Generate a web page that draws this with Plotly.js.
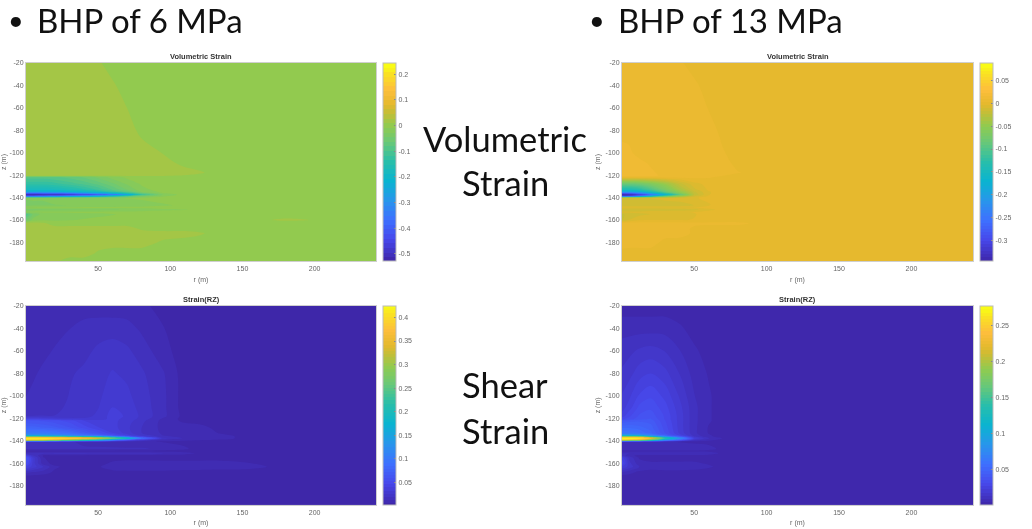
<!DOCTYPE html>
<html><head><meta charset="utf-8">
<script src="https://cdn.plot.ly/plotly-3.0.1.min.js"></script>
<style>
html,body{margin:0;padding:0;background:#fff}
#plot{width:1032px;height:529px}
#plot .cartesianlayer,#plot .colorbar{filter:blur(.7px)}
</style></head><body><div id="plot"></div>
<script>
const rValues=[0,5,12,20,30,40,50,60,70,80,95,110,120,135,155,180,243];
const zValues=[-20,-40,-60,-80,-100,-110,-118,-120.5,-122,-128,-133,-135,-136,-137.5,-139,-140.5,-147,-149,-151,-153,-155,-160,-163,-168,-172,-180,-190,-197];

const volStrain6=[
[.018,.018,.018,.018,.018,.018,.012,0,0,0,0,0,0,0,0,0,0],
[.018,.018,.018,.018,.018,.018,.018,.012,0,0,0,0,0,0,0,0,0],
[.018,.018,.018,.018,.018,.018,.018,.018,.009,0,0,0,0,0,0,0,0],
[.018,.018,.018,.018,.018,.018,.018,.018,.018,.004,0,0,0,0,0,0,0],
[.018,.018,.018,.018,.018,.018,.018,.018,.018,.018,.008,0,0,0,0,0,0],
[.018,.018,.018,.018,.018,.018,.018,.018,.018,.018,.018,.004,0,0,0,0,0],
[.018,.018,.018,.018,.018,.018,.018,.018,.018,.018,.018,.018,.012,0,0,0,0],
[.012,.012,.012,.012,.012,.012,.012,.012,.012,.012,.012,.008,.004,0,0,0,0],
[-.09,-.09,-.09,-.085,-.075,-.06,-.04,-.018,-.005,0,0,0,0,0,0,0,0],
[-.13,-.13,-.13,-.125,-.11,-.095,-.075,-.05,-.025,-.007,0,0,0,0,0,0,0],
[-.18,-.18,-.18,-.175,-.16,-.14,-.115,-.08,-.045,-.015,0,0,0,0,0,0,0],
[-.25,-.25,-.25,-.24,-.22,-.2,-.17,-.12,-.08,-.025,-.003,0,0,0,0,0,0],
[-.38,-.38,-.37,-.36,-.34,-.3,-.26,-.2,-.14,-.06,-.006,0,0,0,0,0,0],
[-.525,-.525,-.52,-.51,-.49,-.47,-.43,-.37,-.27,-.12,-.025,0,0,0,0,0,0],
[-.4,-.39,-.37,-.34,-.3,-.26,-.22,-.16,-.09,-.04,-.01,0,0,0,0,0,0],
[-.025,-.025,-.025,-.02,-.018,-.016,-.012,-.01,-.008,-.005,0,0,0,0,0,0,0],
[-.035,-.03,-.03,-.028,-.027,-.026,-.025,-.024,-.022,-.02,-.012,-.005,0,0,0,0,0],
[-.008,-.008,-.006,-.006,-.005,-.005,-.004,-.004,-.003,-.003,0,0,0,0,0,0,0],
[-.04,-.036,-.034,-.034,-.033,-.032,-.031,-.03,-.025,-.02,-.014,-.01,-.006,0,0,0,0],
[-.012,-.008,-.006,-.006,-.006,-.005,-.005,-.004,-.004,-.003,0,0,0,0,0,0,0],
[-.1,-.04,-.02,-.018,-.016,-.014,-.012,-.01,-.006,-.004,0,0,0,0,0,0,0],
[-.05,-.02,-.012,-.012,-.01,-.008,-.006,-.004,0,0,0,0,0,0,.004,.012,0],
[.018,.018,.012,0,0,0,0,0,0,0,0,0,0,0,0,0,0],
[.018,.018,.018,.018,.018,.018,.018,.018,.018,.006,0,0,0,0,0,0,0],
[.018,.018,.018,.018,.018,.018,.018,.018,.018,.018,.018,.018,.012,0,0,0,0],
[.018,.018,.018,.018,.018,.018,.018,.018,.018,.018,.006,0,0,0,0,0,0],
[.018,.018,.018,.018,.018,.018,.006,0,0,0,0,0,0,0,0,0,0],
[.018,.018,.018,.012,0,0,0,0,0,0,0,0,0,0,0,0,0]];

const volStrain13=[
[.0068,.0068,.0068,.0068,.0068,.0045,0,0,0,0,0,0,0,0,0,0,0],
[.0068,.0068,.0068,.0068,.0068,.0068,.005,0,0,0,0,0,0,0,0,0,0],
[.0068,.0068,.0068,.0068,.0068,.0068,.0068,.003,0,0,0,0,0,0,0,0,0],
[.0068,.0068,.0068,.0068,.0068,.0068,.0068,.0068,.001,0,0,0,0,0,0,0,0],
[.0136,.012,.0068,.0068,.0068,.0068,.0068,.0068,.004,0,0,0,0,0,0,0,0],
[.0136,.0136,.0136,.009,.0068,.0068,.0068,.0068,.0068,.001,0,0,0,0,0,0,0],
[.0136,.0136,.0136,.012,.0068,.0068,.0068,.0068,.0068,.004,0,0,0,0,0,0,0],
[.0136,.0136,.0136,.0136,.0068,.0068,.0068,.0068,.0036,0,0,0,0,0,0,0,0],
[.004,.004,.004,.004,.005,.005,.005,.004,.002,0,0,0,0,0,0,0,0],
[-.085,-.085,-.08,-.065,-.045,-.02,-.006,-.001,0,0,0,0,0,0,0,0,0],
[-.14,-.14,-.13,-.105,-.07,-.035,-.012,-.002,0,0,0,0,0,0,0,0,0],
[-.2,-.2,-.18,-.14,-.09,-.05,-.018,-.004,0,0,0,0,0,0,0,0,0],
[-.28,-.27,-.24,-.19,-.12,-.06,-.02,-.004,0,0,0,0,0,0,0,0,0],
[-.345,-.34,-.32,-.26,-.17,-.09,-.022,-.004,0,0,0,0,0,0,0,0,0],
[-.3,-.29,-.24,-.17,-.09,-.045,-.012,-.002,0,0,0,0,0,0,0,0,0],
[-.012,-.012,-.012,-.01,-.008,-.006,-.004,-.002,0,0,0,0,0,0,0,0,0],
[-.014,-.014,-.014,-.014,-.014,-.014,-.01,-.004,0,0,0,0,0,0,0,0,0],
[-.005,-.005,-.005,-.005,-.004,-.004,-.003,0,0,0,0,0,0,0,0,0,0],
[-.016,-.016,-.016,-.016,-.016,-.016,-.012,-.006,0,0,0,0,0,0,0,0,0],
[-.008,-.008,-.008,-.006,-.005,-.004,-.003,0,0,0,0,0,0,0,0,0,0],
[-.018,-.015,-.012,-.01,-.008,-.006,-.004,0,0,0,0,0,0,0,0,0,0],
[-.018,-.01,-.005,-.004,-.004,-.004,-.003,0,0,0,0,0,0,0,0,0,0],
[.0068,.0068,.0068,.0068,.0068,.0068,.005,.005,.005,.005,.002,0,0,0,0,0,0],
[.0068,.0068,.0068,.0068,.0068,.0068,.002,0,0,0,0,0,0,0,0,0,0],
[.0068,.0068,.0068,.0068,.0068,.0068,.002,0,0,0,0,0,0,0,0,0,0],
[.0068,.0068,.0068,.0068,.001,0,0,0,0,0,0,0,0,0,0,0,0],
[.001,0,0,0,0,0,0,0,0,0,0,0,0,0,0,0,0],
[0,0,0,0,0,0,0,0,0,0,0,0,0,0,0,0,0]];

const shearStrain6=[
[.009,.009,.009,.009,.009,.009,.009,.009,.009,.009,.003,.003,.003,.003,.003,.003,.003],
[.009,.009,.009,.01,.013,.016,.017,.017,.016,.012,.007,.003,.003,.003,.003,.003,.003],
[.009,.01,.011,.014,.016,.018,.021,.023,.021,.017,.009,.003,.003,.003,.003,.003,.003],
[.01,.012,.015,.016,.019,.021,.024,.027,.025,.021,.014,.003,.003,.003,.003,.003,.003],
[.013,.015,.016,.017,.02,.022,.025,.03,.028,.023,.015,.003,.003,.003,.003,.003,.003],
[.015,.016,.017,.018,.021,.023,.026,.033,.03,.024,.015,.003,.003,.003,.003,.003,.003],
[.02,.02,.02,.02,.022,.024,.028,.036,.032,.025,.015,.004,.003,.003,.003,.003,.003],
[.04,.04,.038,.035,.03,.028,.03,.035,.031,.024,.012,.004,.003,.003,.003,.003,.003],
[.06,.06,.058,.055,.05,.04,.035,.035,.03,.022,.011,.005,.004,.003,.003,.003,.003],
[.075,.075,.072,.068,.06,.05,.04,.036,.028,.02,.011,.01,.009,.004,.003,.003,.003],
[.1,.1,.1,.095,.085,.07,.055,.04,.03,.02,.012,.011,.01,.006,.003,.003,.003],
[.13,.13,.13,.12,.11,.09,.075,.055,.038,.025,.013,.012,.011,.008,.004,.003,.003],
[.22,.22,.21,.2,.18,.16,.14,.1,.06,.035,.014,.012,.011,.009,.004,.003,.003],
[.42,.42,.42,.41,.4,.38,.34,.27,.19,.09,.022,.012,.011,.009,.004,.003,.003],
[.4,.39,.38,.35,.3,.25,.2,.13,.07,.035,.012,.009,.008,.006,.003,.003,.003],
[.02,.02,.018,.016,.014,.012,.011,.01,.009,.008,.006,.004,.003,.003,.003,.003,.003],
[.014,.014,.014,.014,.014,.014,.014,.014,.014,.014,.012,.008,.003,.003,.003,.003,.003],
[.005,.005,.005,.005,.005,.005,.005,.005,.004,.004,.003,.003,.003,.003,.003,.003,.003],
[.016,.016,.016,.016,.016,.016,.016,.016,.016,.016,.014,.01,.005,.003,.003,.003,.003],
[.04,.02,.006,.005,.005,.005,.004,.004,.004,.004,.003,.003,.003,.003,.003,.003,.003],
[.06,.03,.007,.004,.004,.004,.004,.004,.004,.004,.003,.003,.003,.003,.003,.003,.003],
[.055,.03,.01,.004,.004,.004,.004,.008,.01,.01,.01,.01,.01,.01,.007,.003,.003],
[.04,.03,.02,.008,.004,.004,.006,.009,.01,.01,.01,.01,.01,.01,.009,.004,.003],
[.015,.012,.01,.005,.005,.005,.005,.005,.005,.005,.005,.004,.004,.003,.003,.003,.003],
[.003,.003,.003,.003,.003,.003,.003,.003,.003,.003,.003,.003,.003,.003,.003,.003,.003],
[.003,.003,.003,.003,.003,.003,.003,.003,.003,.003,.003,.003,.003,.003,.003,.003,.003],
[.003,.003,.003,.003,.003,.003,.003,.003,.003,.003,.003,.003,.003,.003,.003,.003,.003],
[.003,.003,.003,.003,.003,.003,.003,.003,.003,.003,.003,.003,.003,.003,.003,.003,.003]];

const shearStrain13=[
[.002,.002,.002,.002,.002,.002,.002,.002,.002,.002,.002,.002,.002,.002,.002,.002,.002],
[.007,.007,.007,.007,.007,.005,.003,.002,.002,.002,.002,.002,.002,.002,.002,.002,.002],
[.011,.012,.014,.015,.013,.009,.005,.003,.002,.002,.002,.002,.002,.002,.002,.002,.002],
[.014,.016,.02,.022,.019,.013,.007,.004,.002,.002,.002,.002,.002,.002,.002,.002,.002],
[.018,.021,.027,.03,.025,.017,.009,.005,.002,.002,.002,.002,.002,.002,.002,.002,.002],
[.02,.024,.032,.034,.028,.019,.01,.005,.002,.002,.002,.002,.002,.002,.002,.002,.002],
[.024,.03,.036,.038,.03,.02,.01,.005,.002,.002,.002,.002,.002,.002,.002,.002,.002],
[.03,.033,.038,.04,.03,.02,.01,.005,.002,.002,.002,.002,.002,.002,.002,.002,.002],
[.04,.042,.043,.042,.031,.02,.01,.005,.002,.002,.002,.002,.002,.002,.002,.002,.002],
[.052,.052,.05,.046,.033,.02,.01,.004,.002,.002,.002,.002,.002,.002,.002,.002,.002],
[.06,.06,.058,.05,.035,.021,.01,.004,.002,.002,.002,.002,.002,.002,.002,.002,.002],
[.09,.09,.085,.07,.045,.025,.011,.005,.002,.002,.002,.002,.002,.002,.002,.002,.002],
[.16,.16,.15,.11,.07,.04,.014,.005,.003,.002,.002,.002,.002,.002,.002,.002,.002],
[.275,.275,.27,.23,.14,.08,.022,.009,.004,.002,.002,.002,.002,.002,.002,.002,.002],
[.25,.24,.22,.17,.09,.05,.014,.006,.003,.002,.002,.002,.002,.002,.002,.002,.002],
[.008,.008,.007,.006,.005,.004,.003,.003,.002,.002,.002,.002,.002,.002,.002,.002,.002],
[.008,.008,.008,.008,.008,.008,.008,.006,.003,.002,.002,.002,.002,.002,.002,.002,.002],
[.003,.003,.003,.003,.003,.003,.003,.003,.002,.002,.002,.002,.002,.002,.002,.002,.002],
[.009,.009,.009,.009,.009,.009,.009,.007,.003,.002,.002,.002,.002,.002,.002,.002,.002],
[.012,.006,.003,.003,.003,.003,.003,.003,.002,.002,.002,.002,.002,.002,.002,.002,.002],
[.025,.012,.004,.003,.003,.003,.003,.003,.002,.002,.002,.002,.002,.002,.002,.002,.002],
[.03,.015,.006,.005,.005,.005,.005,.004,.003,.002,.002,.002,.002,.002,.002,.002,.002],
[.022,.016,.009,.007,.008,.008,.007,.005,.003,.002,.002,.002,.002,.002,.002,.002,.002],
[.008,.006,.003,.002,.002,.002,.002,.002,.002,.002,.002,.002,.002,.002,.002,.002,.002],
[.002,.002,.002,.002,.002,.002,.002,.002,.002,.002,.002,.002,.002,.002,.002,.002,.002],
[.002,.002,.002,.002,.002,.002,.002,.002,.002,.002,.002,.002,.002,.002,.002,.002,.002],
[.002,.002,.002,.002,.002,.002,.002,.002,.002,.002,.002,.002,.002,.002,.002,.002,.002],
[.002,.002,.002,.002,.002,.002,.002,.002,.002,.002,.002,.002,.002,.002,.002,.002,.002]];

const rTicks=[50,100,150,200];
const zTicks=[-20,-40,-60,-80,-100,-120,-140,-160,-180];
const ticks6Vol=[.2,.1,0,-.1,-.2,-.3,-.4,-.5];
const ticks13Vol=[.05,0,-.05,-.1,-.15,-.2,-.25,-.3];
const ticks6Shear=[.4,.35,.3,.25,.2,.15,.1,.05];
const ticks13Shear=[.25,.2,.15,.1,.05];
const parulaLike=[[0,'rgb(62,38,168)'],[.1,'rgb(71,72,235)'],[.2,'rgb(62,112,255)'],[.3,'rgb(40,150,235)'],[.4,'rgb(10,180,208)'],[.5,'rgb(40,190,170)'],[.6,'rgb(105,200,120)'],[.683,'rgb(143,203,80)'],[.75,'rgb(195,190,55)'],[.795,'rgb(228,185,45)'],[.87,'rgb(253,190,60)'],[.95,'rgb(250,225,35)'],[1,'rgb(249,251,21)']];
// Filled contour bands take the colour of their upper level, so the stops move up by half a band.
function shiftedScale(delta){
  const out=[[0,parulaLike[0][1]]];
  parulaLike.slice(1,-1).forEach(s=>out.push([s[0]+delta,s[1]]));
  out.push([1,parulaLike[parulaLike.length-1][1]]);
  return out;
}

const W=1032,H=529;
const panels=[
 {z:volStrain6,zmin:-.528,zmax:.244,start:-.531,size:.018,ticks:ticks6Vol,px:[26,376],py:[63,261],cb:383,title:'Volumetric Strain'},
 {z:volStrain13,zmin:-.346,zmax:.089,start:-.3502,size:.0068,ticks:ticks13Vol,px:[622,973],py:[63,261],cb:979.5,title:'Volumetric Strain'},
 {z:shearStrain6,zmin:.0023,zmax:.425,start:0,size:.0066,ticks:ticks6Shear,px:[26,376],py:[306,504.7],cb:383,title:'Strain(RZ)'},
 {z:shearStrain13,zmin:.0004,zmax:.2775,start:0,size:.0044,ticks:ticks13Shear,px:[622,973],py:[306,504.7],cb:979.5,title:'Strain(RZ)'}];

const axisFont={family:'Liberation Sans, Arial, sans-serif',size:7,color:'#666'};
const traces=[],annotations=[];
const layout={width:W,height:H,margin:{l:0,r:0,t:0,b:0},paper_bgcolor:'#fff',plot_bgcolor:'#fff',showlegend:false};
panels.forEach((p,i)=>{
  const s=i?String(i+1):'';
  traces.push({type:'contour',x:rValues,y:zValues,z:p.z,xaxis:'x'+s,yaxis:'y'+s,colorscale:shiftedScale(p.size/2/(p.zmax-p.zmin)),zauto:false,zmin:p.zmin,zmax:p.zmax,autocontour:false,
    contours:{start:p.start,end:p.zmax+p.size,size:p.size,coloring:'fill',showlines:false},line:{width:0},hoverinfo:'skip',
    colorbar:{x:p.cb/W,xanchor:'left',xpad:0,ypad:0,thickness:13,thicknessmode:'pixels',len:(p.py[1]-p.py[0])/H,lenmode:'fraction',y:1-p.py[1]/H,yanchor:'bottom',
      tickmode:'array',tickvals:p.ticks,ticktext:p.ticks.map(String),tickfont:axisFont,ticks:'inside',ticklen:2,tickcolor:'#888',outlinecolor:'#bbb',outlinewidth:1,borderwidth:0}});
  layout['xaxis'+s]={domain:[p.px[0]/W,p.px[1]/W],anchor:'y'+s,range:[.1,242.5],tickmode:'array',tickvals:rTicks,tickfont:axisFont,ticks:'',ticklabelstandoff:1,showgrid:false,zeroline:false,showline:true,mirror:true,linecolor:'#cfcfcf',linewidth:1,
    title:{text:'r (m)',font:axisFont,standoff:5}};
  layout['yaxis'+s]={domain:[1-p.py[1]/H,1-p.py[0]/H],anchor:'x'+s,range:[-196.7,-20],tickmode:'array',tickvals:zTicks,ticktext:zTicks.map(String),tickfont:axisFont,ticks:'',showgrid:false,zeroline:false,showline:true,mirror:true,linecolor:'#cfcfcf',linewidth:1,
    title:{text:'z (m)',font:axisFont,standoff:4}};
  annotations.push({xref:'paper',yref:'paper',x:(p.px[0]+p.px[1])/2/W,y:1-(p.py[0]-0.5)/H,yanchor:'bottom',xanchor:'center',showarrow:false,text:'<b>'+p.title+'</b>',font:{family:'Liberation Sans, Arial, sans-serif',size:7.5,color:'#333'}});
});
const bigTop={family:'Lato, sans-serif',size:33,color:'#111'};
const bigSide={family:'Lato, sans-serif',size:34.5,color:'#111'};
const bullet={family:'Lato, sans-serif',size:27,color:'#111'};
[['•',16,19,'center',bullet],['BHP of 6 MPa',36,20,'left',bigTop],['•',597,19,'center',bullet],['BHP of 13 MPa',617,20,'left',bigTop],
 ['Volumetric',505.4,138,'center',bigSide],['Strain',505.4,183,'center',bigSide],['Shear',505.4,384,'center',bigSide],['Strain',505.4,430,'center',bigSide]].forEach(a=>{
  annotations.push({xref:'paper',yref:'paper',x:a[1]/W,y:1-a[2]/H,xanchor:a[3],yanchor:'middle',showarrow:false,text:a[0],font:a[4],borderpad:0});
});
layout.annotations=annotations;
Plotly.newPlot('plot',traces,layout,{displayModeBar:false,staticPlot:true});
</script></body></html>
